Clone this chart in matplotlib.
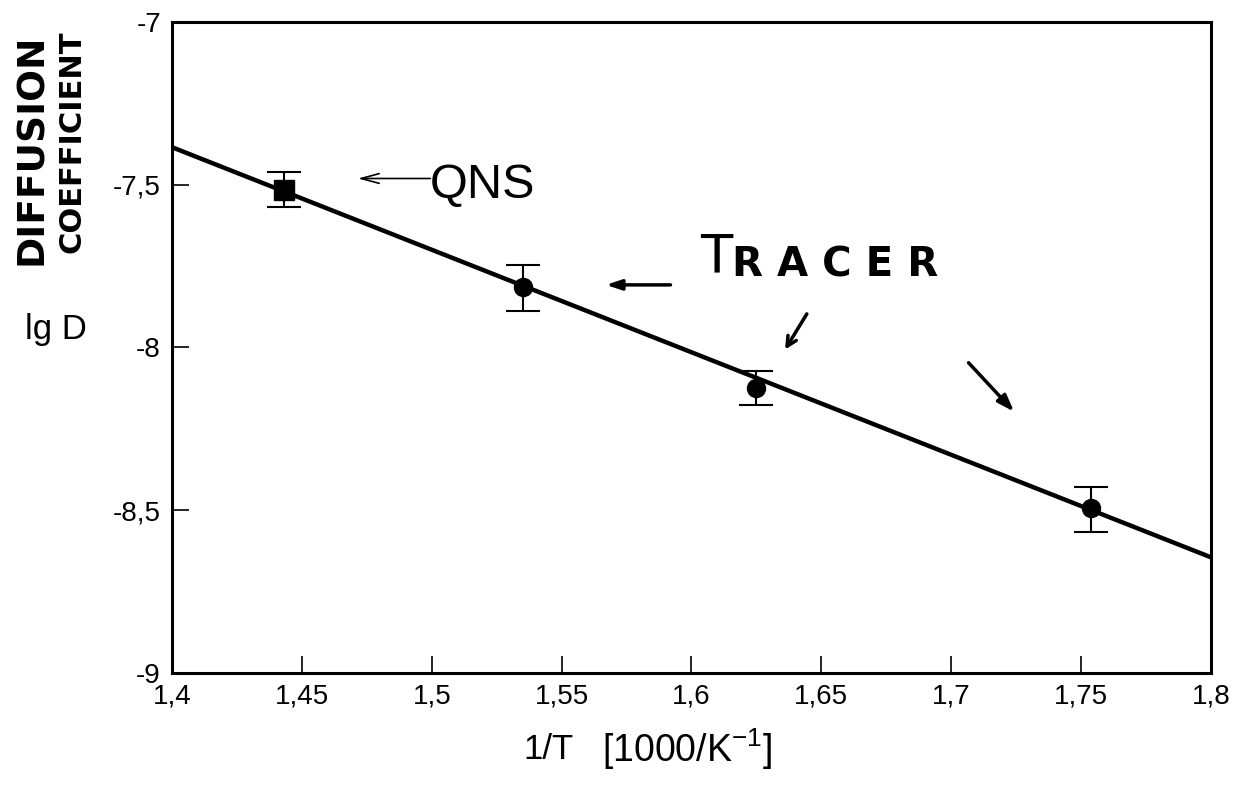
"""
    Diffusion coefficient vs 1/T (Arrhenius plot)
"""
import numpy as np
import matplotlib.pyplot as plt

plt.rcParams['font.family'] = ['Liberation Sans', 'DejaVu Sans']

# Datos
qns_x = [1.443]
qns_y = [-7.515]
qns_err_lo = [0.055]
qns_err_hi = [0.055]

tracer_x = [1.535, 1.625, 1.754]
tracer_y = [-7.815, -8.125, -8.495]
tracer_err_lo = [0.072, 0.052, 0.072]
tracer_err_hi = [0.068, 0.052, 0.065]

fit_x = [1.4, 1.8]
fit_y = [-7.385, -8.645]

x_ticks = [1.4, 1.45, 1.5, 1.55, 1.6, 1.65, 1.7, 1.75, 1.8]
x_labels = ['1,4', '1,45', '1,5', '1,55', '1,6', '1,65', '1,7', '1,75', '1,8']
y_ticks = [-9, -8.5, -8, -7.5, -7]
y_labels = ['-9', '-8,5', '-8', '-7,5', '-7']

fig = plt.figure(figsize=(12.38, 7.85), dpi=100)
ax = fig.add_axes([0.139, 0.143, 0.839, 0.829])

# recta de ajuste
ax.plot(fit_x, fit_y, color='black', lw=3.2, solid_capstyle='butt', zorder=2)

# puntos con barras de error
ax.errorbar(qns_x, qns_y, yerr=[qns_err_lo, qns_err_hi], fmt='s', ms=15,
            color='black', ecolor='black', elinewidth=1.5, capsize=12,
            capthick=1.5, zorder=3)
ax.errorbar(tracer_x, tracer_y, yerr=[tracer_err_lo, tracer_err_hi], fmt='o',
            ms=13, color='black', ecolor='black', elinewidth=1.5, capsize=12,
            capthick=1.5, zorder=3)

ax.set_xlim(1.4, 1.8)
ax.set_ylim(-9, -7)
ax.set_xticks(x_ticks)
ax.set_xticklabels(x_labels)
ax.set_yticks(y_ticks)
ax.set_yticklabels(y_labels)
ax.tick_params(direction='in', length=12, width=1.2, labelsize=20, pad=8)
for s in ax.spines.values():
    s.set_linewidth(2.2)

# anotaciones
ax.text(1.4993, -7.502, 'QNS', fontsize=35, va='center', ha='left')
ax.annotate('', xy=(1.4705, -7.481), xytext=(1.5005, -7.481),
            arrowprops=dict(arrowstyle='->,head_length=1.3,head_width=0.35',
                            lw=1.2, color='black'))

# "TRACER" escrito a mano: T grande + resto mas pequeno
ax.text(1.6035, -7.725, 'T', fontsize=38, va='center', ha='left',
        family=['DejaVu Sans'])
ax.text(1.6155, -7.748, 'R A C E R', fontsize=29, va='center', ha='left',
        fontweight='bold', family=['DejaVu Sans'])
ax.annotate('', xy=(1.566, -7.808), xytext=(1.593, -7.808),
            arrowprops=dict(arrowstyle='-|>,head_length=0.9,head_width=0.3',
                            lw=2.5, color='black'))
ax.annotate('', xy=(1.6355, -8.014), xytext=(1.645, -7.89),
            arrowprops=dict(arrowstyle='->,head_length=0.7,head_width=0.35',
                            lw=2.5, color='black'))
ax.annotate('', xy=(1.725, -8.204), xytext=(1.706, -8.041),
            arrowprops=dict(arrowstyle='-|>,head_length=1.0,head_width=0.35',
                            lw=2.5, color='black'))

# etiquetas de ejes
fig.text(0.026, 0.81, 'DIFFUSION', rotation=90, fontsize=27, fontweight='bold',
         ha='center', va='center', family=['DejaVu Sans'])
fig.text(0.058, 0.82, 'COEFFICIENT', rotation=90, fontsize=22, fontweight='bold',
         ha='center', va='center', family=['DejaVu Sans'])
fig.text(0.045, 0.58, 'lg D', fontsize=25, ha='center', va='center')
fig.text(0.443, 0.045, '1/T', fontsize=25, ha='center', va='center')
fig.text(0.555, 0.045, '[1000/K$^{\\mathregular{-1}}$]', fontsize=27,
         ha='center', va='center')

plt.savefig('out.png', dpi=100)
